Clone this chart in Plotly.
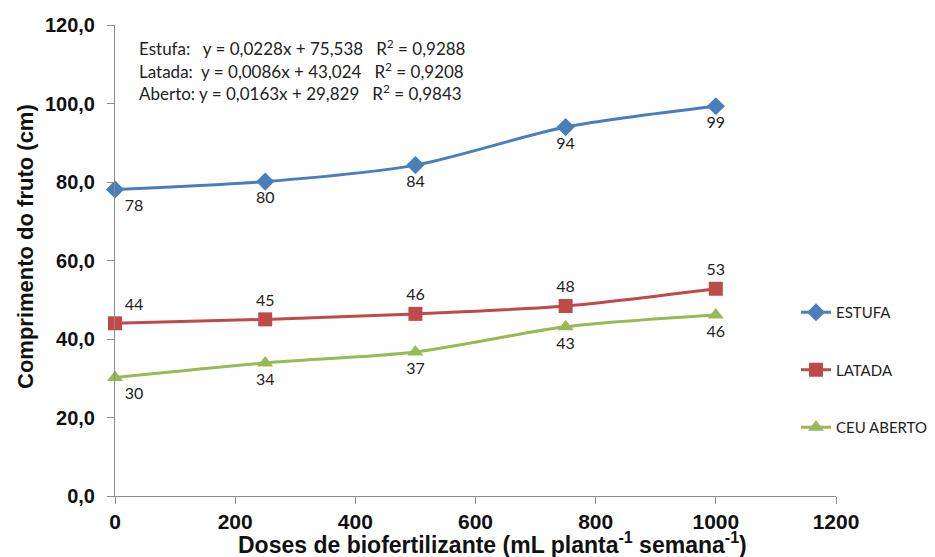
import plotly.graph_objects as go

doses = [0, 250, 500, 750, 1000]
estufa = [78.1, 80.1, 84.3, 94.0, 99.3]
latada = [44.0, 45.0, 46.4, 48.4, 52.8]
aberto = [30.2, 33.9, 36.7, 43.1, 46.1]

series_names = ["ESTUFA", "LATADA", "CEU ABERTO"]
colors = ["#4A7EBB", "#BE4B48", "#98B954"]
symbols = ["diamond", "square", "triangle-up"]

x_ticks = [0, 200, 400, 600, 800, 1000, 1200]
x_ticktext = ["0", "200", "400", "600", "800", "1000", "1200"]
y_ticks = [0, 20, 40, 60, 80, 100, 120]
y_ticktext = ["0,0", "20,0", "40,0", "60,0", "80,0", "100,0", "120,0"]

equations = [
    "Estufa:   y = 0,0228x + 75,538   R<sup>2</sup> = 0,9288",
    "Latada:  y = 0,0086x + 43,024   R<sup>2</sup> = 0,9208",
    "Aberto: y = 0,0163x + 29,829   R<sup>2</sup> = 0,9843",
]

label_font = dict(family="Lato, Carlito, Calibri, sans-serif", size=16, color="#222222")
bold_font = "Liberation Sans, Arial, sans-serif"

positions = [
    ["bottom right"] + ["bottom center"] * 4,
    ["top right"] + ["top center"] * 4,
    ["bottom right"] + ["bottom center"] * 4,
]

fig = go.Figure()
for i, (name, vals) in enumerate(zip(series_names, [estufa, latada, aberto])):
    fig.add_trace(go.Scatter(
        x=doses, y=vals, name=name, legendgroup=name,
        mode="lines+markers+text",
        line=dict(color=colors[i], width=3, shape="spline", smoothing=0.8),
        marker=dict(symbol=symbols[i], size=14, color=colors[i]),
        text=[str(round(v)) for v in vals],
        textposition=positions[i],
        textfont=label_font,
        cliponaxis=False,
    ))

L, R, T, B = 115, 836, 25, 496


def px(x):
    return (x - L) / (R - L)


def py(y):
    return (B - y) / (B - T)


ann = []
for k, eq in enumerate(equations):
    ann.append(dict(
        x=px(137), y=py(47 + 23 * k), xref="paper", yref="paper", text=eq, showarrow=False,
        xanchor="left", yanchor="middle",
        font=dict(family="Lato, Carlito, sans-serif", size=17, color="#222222"),
    ))

ann.append(dict(
    x=px(492), y=py(543), xref="paper", yref="paper",
    text="<b>Doses de biofertilizante (mL planta<sup>-1</sup> semana<sup>-1</sup>)</b>",
    showarrow=False, xanchor="center", yanchor="middle",
    font=dict(family=bold_font, size=23, color="#111111"),
))
ann.append(dict(
    x=px(25), y=py(247), xref="paper", yref="paper",
    text="<b>Comprimento do fruto (cm)</b>", textangle=-90,
    showarrow=False, xanchor="center", yanchor="middle",
    font=dict(family=bold_font, size=22, color="#111111"),
))

fig.update_layout(
    width=935, height=557,
    margin=dict(l=L, r=935 - R, t=T, b=557 - B, autoexpand=False),
    paper_bgcolor="white", plot_bgcolor="white",
    showlegend=True,
    legend=dict(
        x=px(796), y=py(296), xanchor="left", yanchor="top",
        font=dict(family="Lato, Carlito, sans-serif", size=15, color="#222222"),
        tracegroupgap=35, bgcolor="rgba(0,0,0,0)",
    ),
    annotations=ann,
)
fig.update_xaxes(
    range=[0, 1200], tickvals=x_ticks, ticktext=x_ticktext,
    showgrid=False, zeroline=False, showline=True, linecolor="#8c8c8c", linewidth=1,
    ticks="outside", ticklen=7, tickcolor="#8c8c8c",
    tickfont=dict(family=bold_font, size=21, color="#111111", weight="bold"),
)
fig.update_yaxes(
    range=[0, 120], tickvals=y_ticks, ticktext=y_ticktext,
    showgrid=False, zeroline=False, showline=True, linecolor="#8c8c8c", linewidth=1,
    ticks="outside", ticklen=7, tickcolor="#8c8c8c", ticklabelstandoff=8,
    tickfont=dict(family=bold_font, size=20, color="#111111", weight="bold"),
)

fig.write_html("out.html")
